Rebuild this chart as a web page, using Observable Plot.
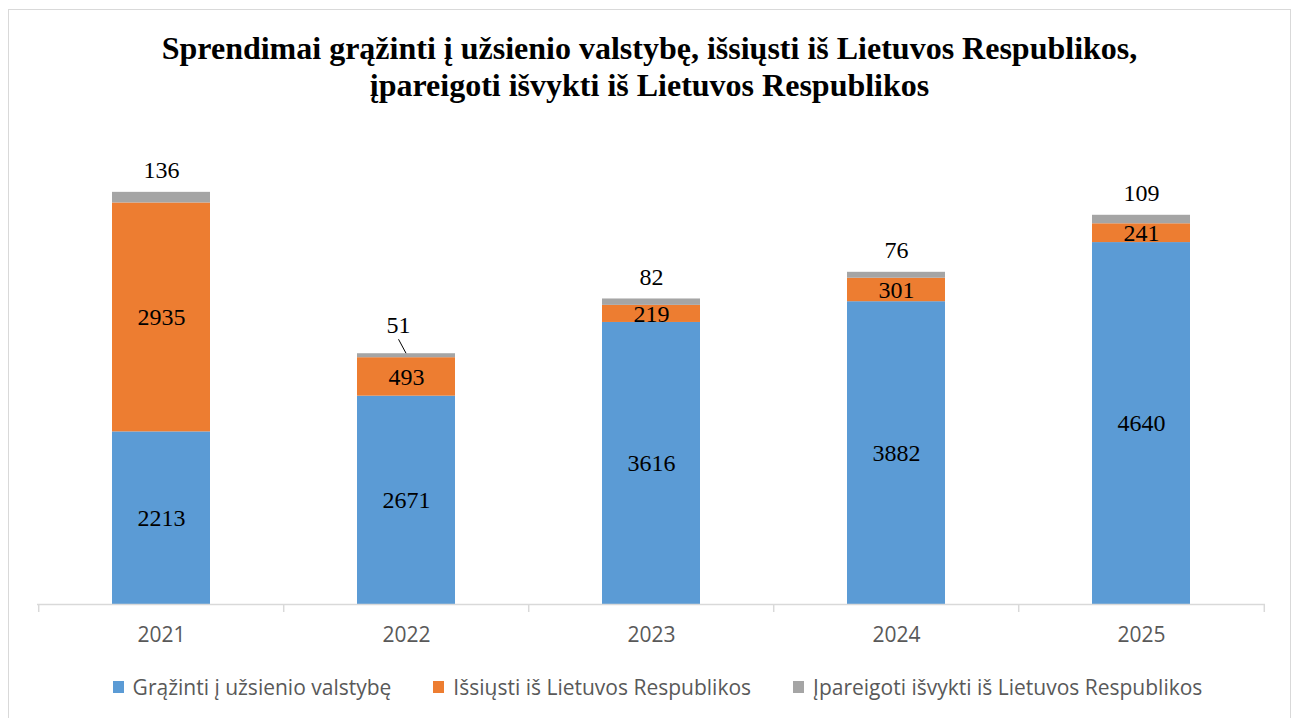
<!DOCTYPE html>
<html><head><meta charset="utf-8">
<script src="https://cdn.jsdelivr.net/npm/d3@7"></script>
<script src="https://cdn.jsdelivr.net/npm/@observablehq/plot@0.6"></script>
<style>
body{margin:0;background:#fff;width:1299px;height:718px;overflow:hidden;position:relative;font-family:"Open Sans",sans-serif;}
#frame{position:absolute;left:8px;top:9px;width:1283px;height:760px;border:1px solid #d9d9d9;box-sizing:border-box;}
#title{position:absolute;left:0;width:1299px;top:30px;text-align:center;font-family:"Liberation Serif","Times New Roman",serif;font-weight:bold;font-size:32px;line-height:37px;color:#000;}
#chart{position:absolute;left:0;top:120px;}
#legend{position:absolute;top:673px;left:8px;width:1299px;display:flex;justify-content:center;gap:42px;font-size:21px;color:#595959;}
.item{display:flex;align-items:center;white-space:nowrap;}
.sw{width:11px;height:12px;margin-right:9px;}
</style></head><body>
<div id="frame"></div>
<div id="title">Sprendimai grąžinti į užsienio valstybę, išsiųsti iš Lietuvos Respublikos,<br>įpareigoti išvykti iš Lietuvos Respublikos</div>
<div id="chart"></div>
<div id="legend"></div>
<script>
const years = ["2021", "2022", "2023", "2024", "2025"];
const returned = [2213, 2671, 3616, 3882, 4640];
const expelled = [2935, 493, 219, 301, 241];
const obliged = [136, 51, 82, 76, 109];
const seriesNames = ["Grąžinti į užsienio valstybę", "Išsiųsti iš Lietuvos Respublikos", "Įpareigoti išvykti iš Lietuvos Respublikos"];
const seriesValues = [returned, expelled, obliged];
const colors = ["#5B9BD5", "#ED7D31", "#A5A5A5"];

const rows = [];
seriesNames.forEach((s, si) => years.forEach((y, yi) => rows.push({year: y, series: s, value: seriesValues[si][yi]})));
const totals = years.map((y, i) => ({year: y, total: returned[i] + expelled[i] + obliged[i], top: obliged[i]}));

const W = 1299, H = 545, mL = 37, mR = 34, mT = 16, mB = 61;
const step = (W - mL - mR) / years.length;
const serif = "Liberation Serif, Times New Roman, serif";

const plot = Plot.plot({
  width: W, height: H,
  marginLeft: mL, marginRight: mR, marginTop: mT, marginBottom: mB,
  style: {fontFamily: "Open Sans, sans-serif", background: "transparent"},
  x: {domain: years, paddingInner: 0.6, paddingOuter: 0.3, label: null},
  y: {domain: [0, 6000], axis: null},
  color: {domain: seriesNames, range: colors},
  marks: [
    Plot.barY(rows, Plot.stackY({x: "year", y: "value", fill: "series", z: "series", order: seriesNames})),
    Plot.text(rows, Plot.stackY({x: "year", y: "value", z: "series", order: seriesNames,
      text: d => d.series === seriesNames[2] ? null : String(d.value),
      fontFamily: serif, fontSize: 24, fill: "#000"})),
    Plot.text(totals.filter(d => d.year !== "2022"), {x: "year", y: "total", text: d => String(d.top), dy: -22, fontFamily: serif, fontSize: 24, fill: "#000"}),
    Plot.text(totals.filter(d => d.year === "2022"), {x: "year", y: "total", text: d => String(d.top), dy: -28, dx: -8, fontFamily: serif, fontSize: 24, fill: "#000"}),
    Plot.ruleY([0], {stroke: "#d9d9d9", strokeWidth: 1.5}),
    Plot.ruleX(years, {x: d => d, y1: 0, y2: 0, dx: -step / 2, insetBottom: -8, stroke: "#d9d9d9", strokeWidth: 1.5}),
    Plot.ruleX(years.slice(-1), {x: d => d, y1: 0, y2: 0, dx: step / 2, insetBottom: -8, stroke: "#d9d9d9", strokeWidth: 1.5}),
    Plot.axisX({tickSize: 0, tickPadding: 23, fontSize: 21, fill: "#595959", label: null})
  ]
});
document.getElementById("chart").appendChild(plot);

// leader line for the small 2022 label
const xs = plot.scale("x"), ys = plot.scale("y");
const t22 = totals.find(d => d.year === "2022");
const cx = xs.apply("2022") + xs.bandwidth / 2, cy = ys.apply(t22.total);
d3.select(plot).append("line")
  .attr("x1", cx).attr("y1", cy).attr("x2", cx - 7.5).attr("y2", cy - 14)
  .attr("stroke", "#000").attr("stroke-width", 1);

const leg = document.getElementById("legend");
seriesNames.forEach((s, i) => {
  const it = document.createElement("div"); it.className = "item";
  const sw = document.createElement("span"); sw.className = "sw"; sw.style.background = colors[i];
  const tx = document.createElement("span"); tx.textContent = s;
  it.appendChild(sw); it.appendChild(tx); leg.appendChild(it);
});
</script>
</body></html>
